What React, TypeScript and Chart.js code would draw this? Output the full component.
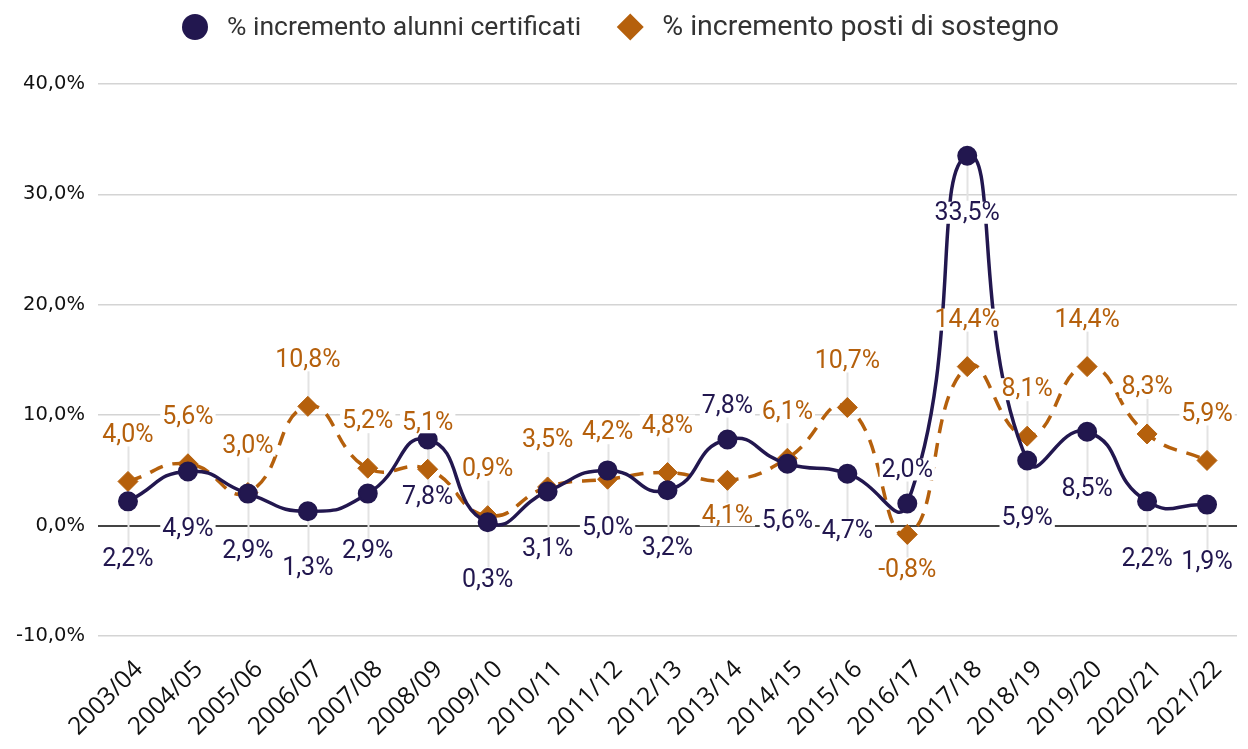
import React, { useEffect, useRef } from 'react';
import { Chart, registerables } from 'chart.js';

Chart.register(...registerables);

const categories = [
  '2003/04', '2004/05', '2005/06', '2006/07', '2007/08', '2008/09', '2009/10',
  '2010/11', '2011/12', '2012/13', '2013/14', '2014/15', '2015/16', '2016/17',
  '2017/18', '2018/19', '2019/20', '2020/21', '2021/22',
];
const alunniCertificati = [2.2, 4.9, 2.9, 1.3, 2.9, 7.8, 0.3, 3.1, 5.0, 3.2, 7.8, 5.6, 4.7, 2.0, 33.5, 5.9, 8.5, 2.2, 1.9];
const postiSostegno = [4.0, 5.6, 3.0, 10.8, 5.2, 5.1, 0.9, 3.5, 4.2, 4.8, 4.1, 6.1, 10.7, -0.8, 14.4, 8.1, 14.4, 8.3, 5.9];
const yMin = -10;
const yMax = 40;
const yStep = 10;
// which side of its point each data label sits on ('a' above, 'b' below)
const alunniLabelSide = ['b', 'b', 'b', 'b', 'b', 'b', 'b', 'b', 'b', 'b', 'a', 'b', 'b', 'a', 'b', 'b', 'b', 'b', 'b'];
const postiLabelSide = ['a', 'a', 'a', 'a', 'a', 'a', 'a', 'a', 'a', 'a', 'b', 'a', 'a', 'b', 'a', 'a', 'a', 'a', 'a'];

const NAVY = '#22174f';
const ORANGE = '#b5600c';
const fmt = (v: number) => v.toFixed(1).replace('.', ',') + '%';

const labelOffsets = [
  { above: -34, below: 57 },
  { above: -47, below: 35 },
];
const sides = [alunniLabelSide, postiLabelSide];

const dataLabelPlugin = {
  id: 'dataLabelPlugin',
  beforeDatasetsDraw(chart: any) {
    const ctx = chart.ctx;
    ctx.save();
    ctx.strokeStyle = '#e3e3e3';
    ctx.lineWidth = 2;
    chart.data.datasets.forEach((ds: any, di: number) => {
      const meta = chart.getDatasetMeta(di);
      meta.data.forEach((pt: any, i: number) => {
        const side = sides[di][i];
        const off = side === 'a' ? labelOffsets[di].above : labelOffsets[di].below;
        const ly = pt.y + off;
        const x = Math.round(pt.x) + 0.5;
        ctx.beginPath();
        if (off < 0) {
          ctx.moveTo(x, ly + 12);
          ctx.lineTo(x, pt.y - 8);
        } else {
          ctx.moveTo(x, pt.y + 8);
          ctx.lineTo(x, ly - 12);
        }
        ctx.stroke();
      });
    });
    ctx.restore();
  },
  afterDatasetsDraw(chart: any) {
    const ctx = chart.ctx;
    ctx.save();
    ctx.font = '25px Roboto';
    ctx.textAlign = 'center';
    ctx.textBaseline = 'middle';
    chart.data.datasets.forEach((ds: any, di: number) => {
      const meta = chart.getDatasetMeta(di);
      meta.data.forEach((pt: any, i: number) => {
        const side = sides[di][i];
        const off = side === 'a' ? labelOffsets[di].above : labelOffsets[di].below;
        const txt = fmt(ds.data[i]);
        const w = ctx.measureText(txt).width;
        const ly = pt.y + off;
        ctx.fillStyle = '#ffffff';
        ctx.fillRect(pt.x - w / 2 - 2, ly - 11, w + 4, 22);
        ctx.fillStyle = ds.borderColor;
        ctx.fillText(txt, pt.x, ly + 1);
      });
    });
    ctx.restore();
  },
};

const legendFonts = [26.5, 28.5];
const legendPlugin = {
  id: 'customLegend',
  afterDraw(chart: any) {
    const ctx = chart.ctx;
    ctx.save();
    ctx.textBaseline = 'middle';
    ctx.textAlign = 'left';
    const y = 27;
    const markerGap = 32;
    const itemGap = 49;
    let x = 182;
    chart.data.datasets.forEach((ds: any, i: number) => {
      ctx.font = legendFonts[i] + 'px Roboto';
      const w = ctx.measureText(ds.label).width;
      const cx = x + 13;
      ctx.fillStyle = ds.backgroundColor;
      ctx.beginPath();
      if (ds.pointStyle === 'rectRot') {
        const r = 13.5;
        ctx.moveTo(cx, y - r);
        ctx.lineTo(cx + r, y);
        ctx.lineTo(cx, y + r);
        ctx.lineTo(cx - r, y);
        ctx.closePath();
      } else {
        ctx.arc(cx, y, 13, 0, Math.PI * 2);
      }
      ctx.fill();
      ctx.fillStyle = '#333333';
      ctx.fillText(ds.label, cx + markerGap, y + 1);
      x = cx + markerGap + w + itemGap - 13;
    });
    ctx.restore();
  },
};

export default function App() {
  const ref = useRef<HTMLCanvasElement>(null);
  useEffect(() => {
    if (!ref.current) return;
    const chart = new Chart(ref.current, {
      type: 'line',
      data: {
        labels: categories,
        datasets: [
          {
            label: '% incremento alunni certificati',
            data: alunniCertificati,
            borderColor: NAVY,
            backgroundColor: NAVY,
            borderWidth: 3.5,
            tension: 0.55,
            pointStyle: 'circle',
            pointRadius: 9,
            pointBorderWidth: 2,
            fill: false,
          },
          {
            label: '% incremento posti di sostegno',
            data: postiSostegno,
            borderColor: ORANGE,
            backgroundColor: ORANGE,
            borderWidth: 3.5,
            borderDash: [14, 10],
            tension: 0.5,
            pointStyle: 'rectRot',
            pointRadius: 10,
            pointBorderWidth: 1,
            fill: false,
          },
        ],
      },
      options: {
        responsive: false,
        animation: false,
        layout: { padding: { top: 84, right: 3, left: 0, bottom: 0 } },
        plugins: {
          legend: { display: false },
          tooltip: { enabled: false },
        },
        scales: {
          x: {
            offset: true,
            grid: { display: false },
            border: { display: false },
            ticks: {
              color: '#111111',
              font: { family: 'Open Sans', size: 24.5 },
              minRotation: 45,
              maxRotation: 45,
              autoSkip: false,
              padding: 11,
              labelOffset: 11,
            },
            afterFit: (s: any) => { s.height = 113; },
          },
          y: {
            min: yMin,
            max: yMax,
            border: { display: false },
            grid: {
              drawTicks: false,
              color: (c: any) => (c.tick && c.tick.value === 0 ? '#444444' : '#d4d4d4'),
              lineWidth: (c: any) => (c.tick && c.tick.value === 0 ? 2 : 1.5),
            },
            ticks: {
              stepSize: yStep,
              color: '#111111',
              font: { family: 'DejaVu Sans', size: 19.5 },
              padding: 13,
              callback: (v: any) => fmt(Number(v)),
            },
            afterFit: (s: any) => { s.width = 98; },
          },
        },
      },
      plugins: [dataLabelPlugin, legendPlugin],
    });
    return () => chart.destroy();
  }, []);
  return (
    <div style={{ position: 'absolute', left: 0, top: 0, width: 1248, height: 749, background: '#fff' }}>
      <canvas ref={ref} width={1248} height={749} />
    </div>
  );
}
